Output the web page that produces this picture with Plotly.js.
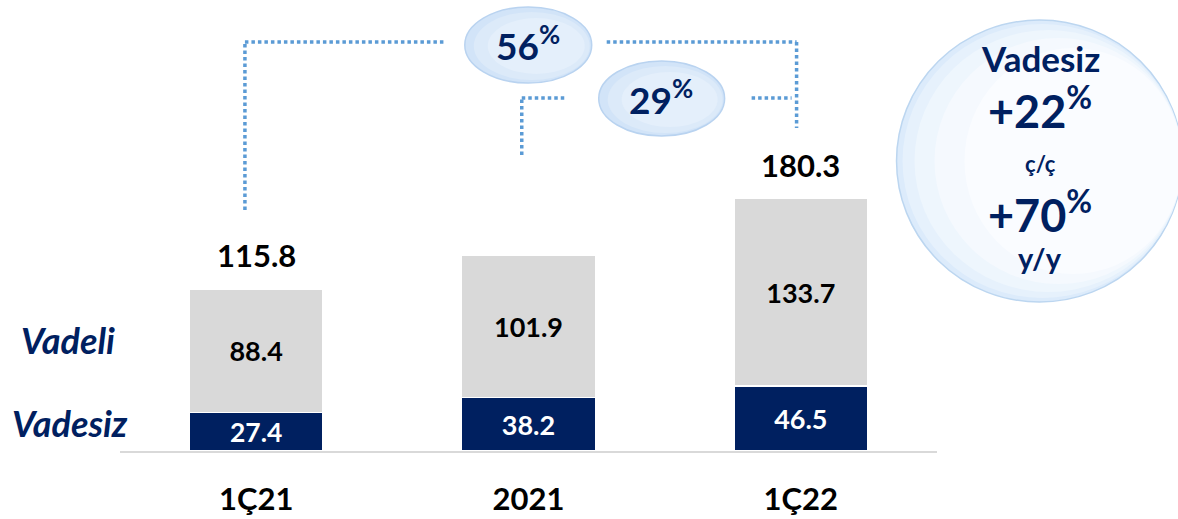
<!DOCTYPE html>
<html><head><meta charset="utf-8">
<script src="https://cdn.plot.ly/plotly-3.0.1.min.js"></script>
<style>body{margin:0;background:#fff}#c{width:1178px;height:519px}</style>
</head><body><div id="c"></div>
<script>
const categories = ["1Ç21", "2021", "1Ç22"];
const vadesiz = [27.4, 38.2, 46.5];
const vadeli = [88.4, 101.9, 133.7];
const totals = [115.8, 140.1, 180.3];
const seriesNames = ["Vadesiz", "Vadeli"];
const growthLabels = ["56", "29"];
const circleLines = ["Vadesiz", "+22", "ç/ç", "+70", "y/y"];

const NAVY = "#002060", GRAY = "#d9d9d9", DOT = "#5b9bd5";
const FONT = "Lato, 'Open Sans', sans-serif";
const L = 120, R = 937.5, T = 31, B = 451;
const px = x => (x - L) / (R - L);
const py = y => (B - y) / (B - T);

const traces = [
  {type: "bar", name: seriesNames[0], x: categories, y: vadesiz, marker: {color: NAVY, line: {color: "#fff", width: 1.5}},
   text: vadesiz.map(v => v.toFixed(1)), textposition: "inside", insidetextanchor: "middle", textangle: 0,
   textfont: {family: FONT, size: 27, color: "#fff", weight: "bold"}, hoverinfo: "none"},
  {type: "bar", name: seriesNames[1], x: categories, y: vadeli, marker: {color: GRAY, line: {color: "#fff", width: 1.5}},
   text: vadeli.map(v => v.toFixed(1)), textposition: "inside", insidetextanchor: "middle", textangle: 0,
   textfont: {family: FONT, size: 27, color: "#000", weight: "bold"}, hoverinfo: "none"}
];

const ann = [];
const A = (x, y, text, size) => ({xref: "paper", yref: "paper", x: px(x), y: py(y), xanchor: "center", yanchor: "middle",
  text: text, showarrow: false, font: {family: FONT, size: size, color: NAVY}});
categories.forEach((c, i) => ann.push({x: c, y: totals[i], xref: "x", yref: "y", xanchor: "center", text: "<b>" + totals[i].toFixed(1) + "</b>",
  showarrow: false, yanchor: "middle", yshift: 34, font: {family: FONT, size: 31, color: "#000"}}));
ann.push(A(68, 340, "<b><i>Vadeli</i></b>", 36));
ann.push(A(70, 423, "<b><i>Vadesiz</i></b>", 36));
ann.push(A(528, 43, "<b>" + growthLabels[0] + "<sup>%</sup></b>", 37));
ann.push(A(661, 97, "<b>" + growthLabels[1] + "<sup>%</sup></b>", 37));
const cy = [58, 108, 163, 212, 257], cs = [35, 45, 22, 45, 29], sup = [false, true, false, true, false];
circleLines.forEach((t, i) => ann.push(A(1041, cy[i], "<b>" + t + (sup[i] ? "<sup>%</sup>" : "") + "</b>", cs[i])));

const dl = {color: DOT, width: 3.5, dash: "3.5px,3px"};
const seg = (x0, y0, x1, y1) => ({type: "line", xref: "paper", yref: "paper", x0: px(x0), y0: py(y0), x1: px(x1), y1: py(y1), line: dl});
const ell = (x0, x1, y0, y1, fill, lc, lw) => ({type: "circle", xref: "paper", yref: "paper", x0: px(x0), x1: px(x1), y0: py(y0), y1: py(y1),
  fillcolor: fill, line: {color: lc, width: lw}});
const shapes = [
  seg(245, 210, 245, 42), seg(245, 42, 445, 42), seg(607, 42, 797, 42), seg(797, 42, 797, 128),
  seg(522, 155, 522, 98), seg(522, 98, 567, 98), seg(752, 98, 792, 98),
  ell(465, 592, 7, 83, "#d2e4f8", "#b9d3f0", 1.5), ell(474, 590, 12, 80, "#dceaf9", "rgba(0,0,0,0)", 0), ell(488, 585, 18, 74, "#e4effb", "rgba(0,0,0,0)", 0),
  ell(599, 725, 61, 136, "#d2e4f8", "#b9d3f0", 1.5), ell(608, 723, 66, 133, "#dceaf9", "rgba(0,0,0,0)", 0), ell(622, 718, 72, 127, "#e4effb", "rgba(0,0,0,0)", 0),
  ell(897, 1183, 20, 302, "#dcebfb", "#bcd6f0", 1.5), ell(903, 1183, 24, 298, "#e6f1fc", "rgba(0,0,0,0)", 0),
  ell(915, 1183, 30, 292, "#eef6fd", "rgba(0,0,0,0)", 0), ell(935, 1183, 38, 284, "#f5f9fe", "rgba(0,0,0,0)", 0),
  ell(965, 1183, 48, 274, "#fafcff", "rgba(0,0,0,0)", 0)
];

const layout = {
  width: 1178, height: 519, margin: {l: L, r: 1178 - R, t: T, b: 519 - B},
  paper_bgcolor: "#fff", plot_bgcolor: "rgba(0,0,0,0)", barmode: "stack", bargap: 0.508, showlegend: false,
  xaxis: {type: "category", range: [-0.5, 2.5], showline: true, linecolor: "#d9d9d9", linewidth: 2, ticks: "", showgrid: false,
    tickfont: {family: FONT, size: 31, color: "#000", weight: "bold"}, ticklabelstandoff: 20},
  yaxis: {range: [0, 300], visible: false, showgrid: false, zeroline: false},
  annotations: ann, shapes: shapes
};
Plotly.newPlot("c", traces, layout, {displayModeBar: false, staticPlot: true});
</script></body></html>
